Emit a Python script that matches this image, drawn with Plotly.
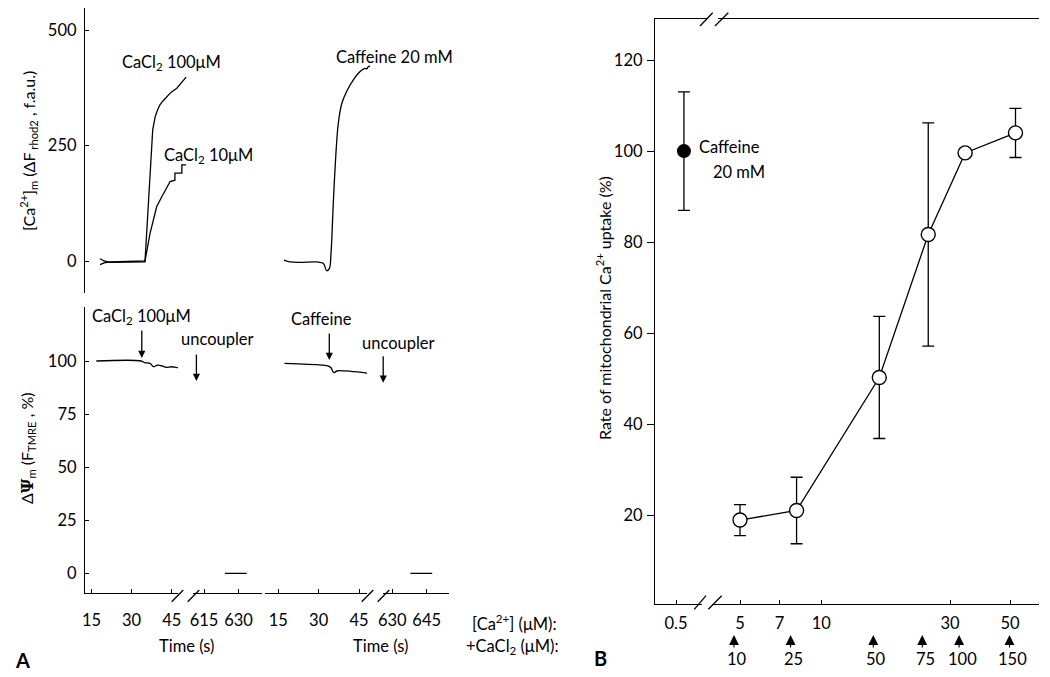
import plotly.graph_objects as go
import math

W, H = 1050, 677
FONT = "Lato"


def px(x):
    return x / W


def py(y):
    return 1 - y / H


# ---------------- DATA ----------------
# Panel A, top: mitochondrial Ca2+ (rhod-2 fluorescence, f.a.u.) vs time (s)
t_ca100 = [18.2, 19.7, 21.9, 35.0, 37.9, 38.8, 39.7, 40.6, 41.8, 43.1, 44.7, 46.9, 48.5, 50.4]
f_ca100 = [5, 0, -3, -2, 284, 312, 327, 338, 347, 356, 365, 374, 385, 398]
t_ca10 = [18.2, 19.7, 21.9, 35.0, 36.9, 39.4, 41.3, 43.1, 44.4, 46.2, 46.2, 48.8, 48.8, 50.4]
f_ca10 = [-8, -4, -2, 0, 60, 118, 139, 157, 172, 175, 190, 190, 208, 208]
t_caff = [17.1, 19.4, 23.1, 29.3, 31.7, 33.0, 34.0, 34.6, 35.5, 36.5, 37.3, 38.6, 40.4,
          42.9, 45.4, 47.2, 47.9, 48.5, 49.1]
f_caff = [2, -2, -3, -2, -5, -21, -16, 17, 132, 240, 298, 341, 367, 392, 410, 417, 416, 421, 422]

# Panel A, bottom: membrane potential (TMRE, %) vs time (s)
t_psi_ca = [16.8, 33.6, 34.9, 36.9, 38.2, 39.6, 41.6, 42.9, 44.9, 46.9, 47.3]
psi_ca = [100, 100, 99.2, 98.9, 97.3, 98.0, 97.6, 97.0, 97.3, 96.9, 97.0]
t_unc_ca = [624.1, 633.6]
psi_unc_ca = [0, 0]
t_psi_caff = [17.3, 31.0, 33.7, 34.6, 35.4, 35.9, 36.5, 37.2, 48.0]
psi_caff = [98.9, 98.1, 97.6, 96.8, 94.8, 94.5, 95.1, 95.4, 94.3]
t_unc_caff = [637.9, 647.4]
psi_unc_caff = [0, 0]

# Panel B: rate of mitochondrial Ca2+ uptake (%) vs free [Ca2+] (uM)
ca_free = [5.0, 8.1, 16.4, 24.9, 34.1, 52.4]
rate = [19.0, 21.1, 50.3, 81.7, 99.6, 104.0]
rate_err = [3.4, 7.3, 13.4, 24.5, 0.0, 5.4]
cacl2_added = ["10", "25", "50", "75", "100", "150"]
caff_x = [0.535]
caff_rate = [100.0]
caff_err = [13.0]

A_top_ticks = [0, 250, 500]
A_bot_ticks = [0, 25, 50, 75, 100]
B_y_ticks = [20, 40, 60, 80, 100, 120]
B_x_ticks = [5, 7, 10, 30, 50]

# ---------------- FIGURE ----------------
LINE = dict(color="black", width=1.3)
fig = go.Figure()

fig.add_trace(go.Scatter(x=t_ca100, y=f_ca100, xaxis="x", yaxis="y", mode="lines",
                         line=LINE, showlegend=False))
fig.add_trace(go.Scatter(x=t_ca10, y=f_ca10, xaxis="x", yaxis="y", mode="lines",
                         line=LINE, showlegend=False))
fig.add_trace(go.Scatter(x=t_caff, y=f_caff, xaxis="x2", yaxis="y", mode="lines",
                         line=LINE, line_shape="spline", showlegend=False))

fig.add_trace(go.Scatter(x=t_psi_ca, y=psi_ca, xaxis="x3", yaxis="y2", mode="lines",
                         line=LINE, line_shape="spline", showlegend=False))
fig.add_trace(go.Scatter(x=t_unc_ca, y=psi_unc_ca, xaxis="x4", yaxis="y2", mode="lines",
                         line=LINE, showlegend=False))
fig.add_trace(go.Scatter(x=t_psi_caff, y=psi_caff, xaxis="x5", yaxis="y2", mode="lines",
                         line=LINE, line_shape="spline", showlegend=False))
fig.add_trace(go.Scatter(x=t_unc_caff, y=psi_unc_caff, xaxis="x6", yaxis="y2", mode="lines",
                         line=LINE, showlegend=False))

fig.add_trace(go.Scatter(
    x=ca_free, y=rate, xaxis="x8", yaxis="y3", mode="lines+markers",
    line=LINE,
    marker=dict(size=14, color="white", line=dict(color="black", width=1.4)),
    error_y=dict(type="data", array=rate_err, visible=True, color="black",
                 thickness=1.3, width=6),
    showlegend=False, cliponaxis=False))
fig.add_trace(go.Scatter(
    x=caff_x, y=caff_rate, xaxis="x7", yaxis="y3", mode="markers",
    marker=dict(size=14, color="black"),
    error_y=dict(type="data", array=caff_err, visible=True, color="black",
                 thickness=1.3, width=6),
    showlegend=False, cliponaxis=False))

TICKFONT = dict(family=FONT, size=16.5, color="black")
common = dict(showgrid=False, zeroline=False, automargin=False, tickfont=TICKFONT,
              linecolor="black", linewidth=1.3, tickcolor="black", tickwidth=1.3)


def lin_range(px_lo, px_hi, v_ref, px_ref, px_per_unit):
    return [v_ref + (px_lo - px_ref) / px_per_unit, v_ref + (px_hi - px_ref) / px_per_unit]


# Panel A scales (px per second)
sA_left = 40.1 / 15
sA_right = 34.5 / 15
sA3 = 40.35 / 15
sA4 = 34.4 / 15

layout = dict(
    width=W, height=H, margin=dict(l=0, r=0, t=0, b=0),
    paper_bgcolor="white", plot_bgcolor="rgba(0,0,0,0)",
    font=dict(family=FONT, size=16, color="black"),
    showlegend=False,
    xaxis=dict(domain=[px(85), px(200)], range=lin_range(85, 200, 15, 91.5, sA_left),
               visible=False, anchor="y", **common),
    xaxis2=dict(domain=[px(265), px(380)], range=lin_range(265, 380, 15, 278.3, sA3),
                visible=False, anchor="y", **common),
    yaxis=dict(domain=[py(293), py(8)], range=[(261 - 293) / 0.462, (261 - 8) / 0.462],
               anchor="x", showline=True, ticks="inside", ticklen=4, tickvals=A_top_ticks,
               ticklabelstandoff=4, **common),
    xaxis3=dict(domain=[px(85), px(178)], range=lin_range(85, 178, 15, 91.5, sA_left),
                anchor="y2", showline=True, ticks="inside", ticklen=4, tickvals=[15, 30, 45],
                ticklabelstandoff=12, **common),
    xaxis4=dict(domain=[px(193.3), px(262)], range=lin_range(193.3, 262, 615, 204, sA_right),
                anchor="y2", showline=True, ticks="inside", ticklen=4, tickvals=[615, 630],
                ticklabelstandoff=12, **common),
    xaxis5=dict(domain=[px(265), px(367)], range=lin_range(265, 367, 15, 278.3, sA3),
                anchor="y2", showline=True, ticks="inside", ticklen=4, tickvals=[15, 30, 45],
                ticklabelstandoff=12, **common),
    xaxis6=dict(domain=[px(383.3), px(449)], range=lin_range(383.3, 449, 630, 392.3, sA4),
                anchor="y2", showline=True, ticks="inside", ticklen=4, tickvals=[630, 645],
                ticklabelstandoff=12, **common),
    yaxis2=dict(domain=[py(593.3), py(306.7)],
                range=[(573.3 - 593.3) / 2.123, (573.3 - 306.7) / 2.123],
                anchor="x3", showline=True, ticks="inside", ticklen=4, tickvals=A_bot_ticks,
                ticklabelstandoff=4, **common),
    # Panel B
    xaxis7=dict(domain=[px(655), px(700)], type="log",
                range=[math.log10(0.5) - 21 / 270, math.log10(0.5) + 24 / 270],
                anchor="y3", showline=True, mirror=True, ticks="inside", ticklen=4,
                tickvals=[0.5], ticktext=["0.5"], ticklabelstandoff=4, **common),
    xaxis8=dict(domain=[px(700), px(1039)], type="log",
                range=[math.log10(5) - 40 / 270, math.log10(5) + 299 / 270],
                anchor="y3", showline=True, mirror=True, ticks="inside", ticklen=4,
                tickvals=B_x_ticks, ticktext=[str(v) for v in B_x_ticks],
                ticklabelstandoff=4, **common),
    yaxis3=dict(domain=[py(604), py(19)],
                range=[(606.6 - 604) / 4.555, (606.6 - 19) / 4.555],
                anchor="x7", showline=True, ticks="outside", ticklen=7, tickvals=B_y_ticks,
                ticklabelstandoff=1, **common),
    yaxis4=dict(domain=[py(604), py(19)],
                range=[(606.6 - 604) / 4.555, (606.6 - 19) / 4.555],
                overlaying="y3", anchor="x8", side="right", showline=True, ticks="",
                showticklabels=False, **common),
)
fig.update_layout(**layout)

ann = []


def text(x, y, s, size=16.5, xanchor="center", angle=0):
    ann.append(dict(x=px(x), y=py(y), xref="paper", yref="paper", text=s, showarrow=False,
                    xanchor=xanchor, yanchor="middle", textangle=angle,
                    font=dict(family=FONT, size=size, color="black")))


def arrow_down(x, y_tip, length):
    ann.append(dict(x=px(x), y=py(y_tip), xref="paper", yref="paper", text="",
                    showarrow=True, ax=0, ay=-length, axref="pixel", ayref="pixel",
                    arrowhead=2, arrowsize=1.1, arrowwidth=1.3, arrowcolor="black"))


# Panel A labels
text(171, 63, "CaCl<sub>2</sub> 100μM")
text(208, 155, "CaCl<sub>2</sub> 10μM")
text(394, 57, "Caffeine 20 mM")
text(141.4, 316, "CaCl<sub>2</sub> 100μM")
text(217, 339, "uncoupler")
text(321.4, 319, "Caffeine")
text(398.2, 343, "uncoupler")
arrow_down(141.8, 358, 29)
arrow_down(196.4, 381, 28)
arrow_down(329.3, 360, 28)
arrow_down(383.2, 382.7, 28)

text(28, 151, "[Ca<sup>2+</sup>]<sub>m</sub> (ΔF<sub> rhod2</sub> , f.a.u.)", angle=-90, size=16)
text(27, 449, "Δ<span style=\"font-family:'DejaVu Serif';font-weight:bold\">Ψ</span>"
              "<sub>m</sub> (F<sub>TMRE</sub> , %)", angle=-90, size=16)
text(186, 646, "Time (s)")
text(380, 646, "Time (s)")
text(514, 623, "[Ca<sup>2+</sup>] (μM):")
text(512, 646, "+CaCl<sub>2</sub> (μM):")
text(22, 660, "<b>A</b>", size=20)
text(600, 658, "<b>B</b>", size=20)

# Panel B labels
text(697, 147, "Caffeine", xanchor="left")
text(711, 172, "20 mM", xanchor="left")
text(603, 308, "Rate of mitochondrial Ca<sup>2+</sup> uptake (%)", angle=-90, size=16)

# CaCl2 additions (arrows under the B axis)
for xv, lab in zip(ca_free, cacl2_added):
    ann.append(dict(x=math.log10(xv), y=py(635), xref="x8", yref="paper", text="",
                    showarrow=True, ax=0, ay=14, arrowhead=2, arrowsize=1.8,
                    arrowwidth=1.1, arrowcolor="black", xshift=-6))
    ann.append(dict(x=math.log10(xv), y=py(659), xref="x8", yref="paper", text=lab,
                    showarrow=False, xanchor="center", yanchor="middle", xshift=-3,
                    font=dict(family=FONT, size=16.5, color="black")))

fig.update_layout(annotations=ann)

# axis-break marks (decoration)
shapes = []


def slash(x0, y0, x1, y1):
    shapes.append(dict(type="line", xref="paper", yref="paper", x0=px(x0), y0=py(y0),
                       x1=px(x1), y1=py(y1), line=dict(color="black", width=1.3)))


slash(171.7, 601.7, 183.3, 590)
slash(187.7, 601.7, 199.3, 590)
slash(361.7, 601.7, 373.3, 590)
slash(377.7, 601.7, 389.3, 590)
shapes.append(dict(type="line", xref="paper", yref="paper", x0=px(702), x1=px(712),
                   y0=py(604), y1=py(604), line=dict(color="white", width=3)))
shapes.append(dict(type="line", xref="paper", yref="paper", x0=px(708), x1=px(718),
                   y0=py(19), y1=py(19), line=dict(color="white", width=3)))
slash(694.3, 609.3, 706, 595.7)
slash(708.3, 609.3, 721.7, 595.7)
slash(700, 26, 712.7, 12.7)
slash(715, 26, 728.3, 12.7)
fig.update_layout(shapes=shapes)

fig.write_html("out.html", config={"displayModeBar": False},
               post_script="document.body.style.margin='0';")
